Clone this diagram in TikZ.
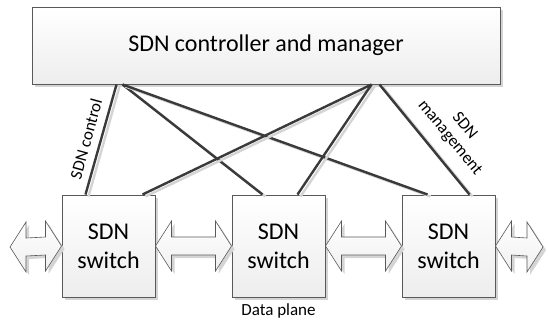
\documentclass[tikz,border=0pt]{standalone}
\usepackage{fontspec}
\setmainfont{Carlito}
\usetikzlibrary{calc,shadows}
\definecolor{edgegray}{HTML}{595959}
\definecolor{linegray}{HTML}{3A3A3A}
\definecolor{shadowgray}{HTML}{D4D4D4}
\tikzset{
  box/.style={draw=edgegray, line width=1pt, top color=white, bottom color=black!7,
    inner sep=0pt, align=center,
    drop shadow={shadow xshift=3pt, shadow yshift=-3pt, fill=shadowgray, opacity=1}},
  link/.style={draw=linegray, line width=2.4pt,
    preaction={draw=shadowgray, line width=2.4pt, transform canvas={shift={(3pt,-2pt)}}}},
  blockarr/.style={draw=edgegray, line width=0.6pt, top color=white, bottom color=black!6,
    preaction={fill=shadowgray, transform canvas={shift={(3pt,-3pt)}}}},
  lbl/.style={font=\fontsize{17}{19}\selectfont, inner sep=0pt, align=center}
}
\newcommand\dblarr[2]{%
  \path[blockarr] (#1) -- ++(16,-25) -- ++(0,16) -- ($(#2)+(-16,-9)$) -- ++(0,-16) -- (#2)
    -- ++(-16,25) -- ++(0,-16) -- ($(#1)+(16,9)$) -- ++(0,16) -- cycle;}
\begin{document}
\begin{tikzpicture}[x=1pt,y=-1pt]
\useasboundingbox (0,0) rectangle (548,325);
% controller
\node[box, minimum width=468pt, minimum height=77pt, font=\fontsize{24}{28}\selectfont]
  (ctrl) at (266,45.5) {SDN controller and manager};
% switches
\foreach \n/\x in {s1/108.5, s2/278.5, s3/448.5}{
  \node[box, minimum width=93pt, minimum height=102pt, font=\fontsize{24}{29}\selectfont]
    (\n) at (\x,246) {SDN\\switch};
}
% hubs on controller
\coordinate (hL1) at ($(ctrl.south west)+(85,0)$);
\coordinate (hL2) at ($(ctrl.south west)+(91,0)$);
\coordinate (hR1) at ($(ctrl.south west)+(340,0)$);
\coordinate (hR2) at ($(ctrl.south west)+(348,0)$);
% switch tops
\coordinate (s1a) at ($(s1.north west)+(24,0)$);
\coordinate (s1b) at ($(s1.north west)+(81,0)$);
\coordinate (s2a) at ($(s2.north west)+(31,0)$);
\coordinate (s2b) at ($(s2.north west)+(66,0)$);
\coordinate (s3a) at ($(s3.north west)+(26,0)$);
\coordinate (s3b) at ($(s3.north west)+(68,0)$);
% links
\draw[link] (hL1) -- (s1a);
\draw[link] (hL2) -- (s2a);
\draw[link] (hL2) -- (s3a);
\draw[link] (hR1) -- (s1b);
\draw[link] (hR1) -- (s2b);
\draw[link] (hR2) -- (s3b);
% block arrows
\coordinate (aL) at (10,247);
\coordinate (aR) at (543,247);
\dblarr{aL}{s1.west}
\dblarr{s1.east}{s2.west}
\dblarr{s2.east}{s3.west}
\dblarr{s3.east}{aR}
% labels
\node[lbl, rotate=74.7] (lctl) at (86,139) {SDN control};
\node[lbl, rotate=-50.7] (lmgt) at (457,132) {SDN\\management};
\node[lbl] (ldp) at (278.5,311) {Data plane};
\end{tikzpicture}
\end{document}
